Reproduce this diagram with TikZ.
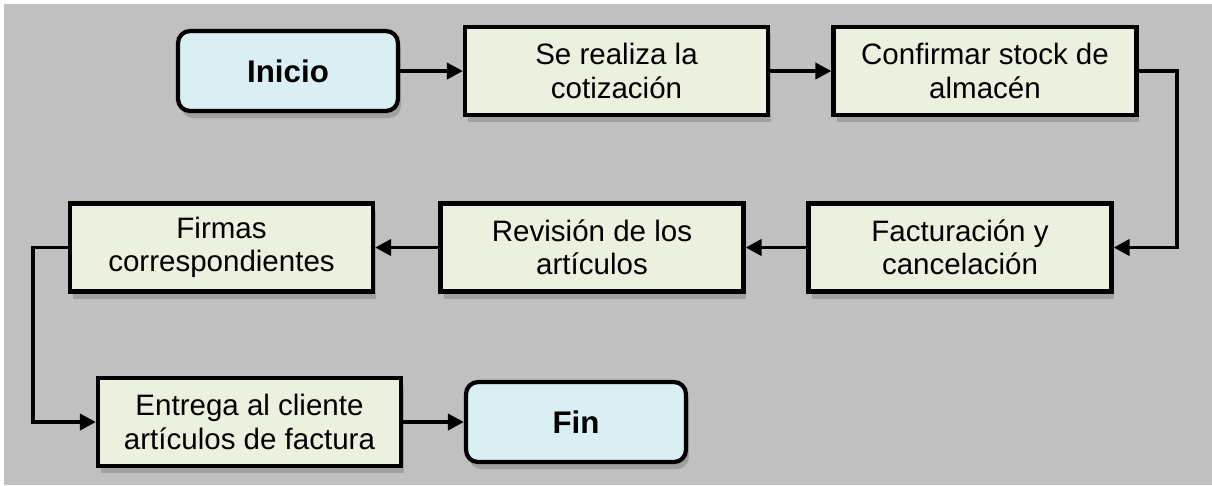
\documentclass[tikz,border=0pt]{standalone}
\usepackage{fontspec}
\setmainfont{Liberation Sans}
\usetikzlibrary{arrows.meta,shadows}
\definecolor{fondo}{RGB}{192,192,192}
\definecolor{sombra}{RGB}{160,160,160}
\definecolor{azulcaja}{RGB}{218,238,243}
\definecolor{verdecaja}{RGB}{235,241,222}
\tikzset{
	paso/.style={draw=black, line width=2.4pt, fill=verdecaja, align=center,
		minimum width=6.06cm, minimum height=1.76cm, inner sep=0pt,
		font=\fontsize{16.8}{19}\selectfont,
		general shadow={shadow xshift=0.06cm, shadow yshift=-0.14cm, fill=sombra}},
	extremo/.style={paso, rounded corners=0.24cm, fill=azulcaja,
		minimum width=4.4cm, minimum height=1.6cm,
		font=\fontsize{17.8}{20}\selectfont\bfseries},
	flecha/.style={line width=2.1pt, -{Triangle[length=0.32cm,width=0.32cm]}}
}

\begin{document}
\begin{tikzpicture}[x=0.02cm, y=-0.02cm]
			%%%%% START %%%%%
			
			\useasboundingbox (0, 0) rectangle (1212, 485);
			\fill[white] (0, 0) rectangle (1212, 485);
			\fill[fondo] (4, 4) rectangle (1212, 485);
			
			\node[extremo] (inicio) at (288, 71) {Inicio};
			\node[paso] (cotizacion) at (616.5, 71) {Se realiza la\\cotización};
			\node[paso] (stock) at (985, 71) {Confirmar stock de\\almacén};
			
			\node[paso] (factura) at (960, 247.5) {Facturación y\\cancelación};
			\node[paso] (revision) at (592, 247.5) {Revisión de los\\artículos};
			\node[paso] (firmas) at (221.5, 247.5) {Firmas\\correspondientes};
			
			\node[paso] (entrega) at (249.5, 422) {Entrega al cliente\\artículos de factura};
			\node[extremo] (fin) at (576, 422) {Fin};
			
			\coordinate (giroder) at (1177, 160);
			\coordinate (giroizq) at (33, 335);
			
			\draw[flecha] (inicio.east) -- (cotizacion.west);
			\draw[flecha] (cotizacion.east) -- (stock.west);
			\draw[flecha] (stock.east) -- (stock.east -| giroder) |- (factura.east);
			\draw[flecha] (factura.west) -- (revision.east);
			\draw[flecha] (revision.west) -- (firmas.east);
			\draw[flecha] (firmas.west) -- (firmas.west -| giroizq) |- (entrega.west);
			\draw[flecha] (entrega.east) -- (fin.west);
			
			%%%%% END %%%%%
\end{tikzpicture}
\end{document}
